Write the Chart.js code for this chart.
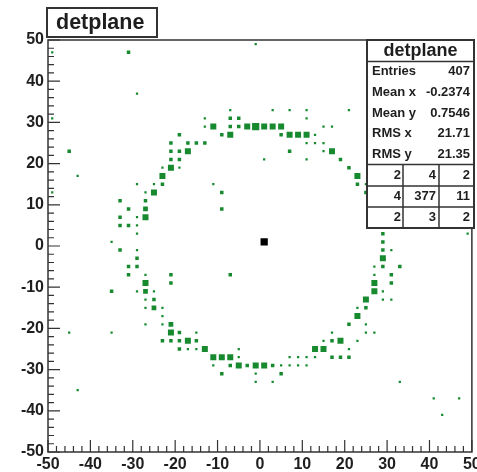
<!DOCTYPE html>
<html>
<head>
<meta charset="utf-8">
<script src="https://cdn.jsdelivr.net/npm/chart.js@4.4.1/dist/chart.umd.min.js"></script>
<style>
html,body{margin:0;padding:0;background:#fff;}
canvas{display:block;}
</style>
</head>
<body>
<canvas id="c" width="477" height="472"></canvas>
<script>
// ---- data (bin centres, estimated bin contents) ----
const binX = [
 -49,-31,-29,-1,-49,-45,-43,-49,-35,-35,-35,-45,-43,33,41,47,43,49,-7,-9,-9,-11,1,7,11,21,
 -33,-27,-31,-27,-33,-29,-27,-33,-31,-29,-29,-27,-25,-29,-25,-23,-23,-23,-21,-19,-21,-19,-21,-19,-17,
 -21,-17,-15,-13,-19,-9,-7,-13,-11,-7,-5,-3,-1,1,3,5,-13,-7,-5,-7,
 3,7,11,11,15,17,5,7,9,11,13,11,13,15,15,17,19,21,23,23,25,25,27,31,27,27,29,29,29,
 29,31,29,27,29,33,27,31,27,31,27,29,25,29,31,23,25,23,21,25,17,25,27,15,17,19,23,13,15,21,
 7,9,11,13,17,19,21,-5,-3,-1,1,3,5,7,9,11,-9,-1,5,-1,3,
 -33,-29,-29,-31,-29,-31,-27,-21,-27,-21,-29,-27,-25,-27,-25,-27,-25,-23,-23,-27,-23,-21,
 -21,-19,-15,-23,-21,-19,-17,-15,-19,-17,-15,-13,-5,-11,-9,-7,-5,-11,-7
];
const binY = [
 47,47,37,49,31,23,17,13,1,-11,-21,-21,-35,-33,-37,-37,-41,3,-7,13,9,15,21,23,21,33,
 11,11,9,9,7,7,7,5,5,5,3,13,13,15,15,15,17,19,19,19,21,21,23,23,23,
 25,25,25,25,27,27,27,29,29,29,29,29,29,29,29,29,31,31,31,33,
 33,33,33,31,29,29,27,27,27,27,27,25,25,25,23,23,21,19,17,15,15,13,11,11,9,7,5,3,1,
 -1,-1,-3,-5,-5,-5,-7,-7,-9,-9,-11,-11,-13,-13,-13,-15,-15,-17,-19,-19,-21,-21,-21,-23,-23,-23,-23,-25,-25,-25,
 -27,-27,-27,-27,-27,-27,-27,-29,-29,-29,-29,-29,-29,-29,-29,-29,-31,-31,-31,-33,-33,
 -1,-1,-3,-5,-5,-7,-7,-7,-9,-9,-11,-11,-11,-13,-13,-15,-15,-15,-17,-19,-19,-19,
 -21,-21,-21,-23,-23,-23,-23,-23,-25,-25,-25,-25,-25,-27,-27,-27,-27,-29,-29
];
const binCount = [
 1,2,1,1,1,2,1,1,1,2,1,1,1,1,1,1,1,1,2,2,2,1,1,2,1,1,
 2,2,2,3,2,1,4,2,2,1,1,1,4,1,1,2,4,1,4,1,2,2,2,2,4,
 2,2,2,2,2,2,4,1,4,2,2,4,5,4,4,4,1,2,2,1,
 1,1,1,1,1,1,2,4,4,4,1,1,1,1,1,4,2,2,4,2,1,2,4,1,2,1,4,2,2,
 2,1,4,1,2,2,1,2,4,2,4,1,4,1,1,1,2,4,2,1,1,1,1,1,2,4,1,4,4,1,
 1,1,1,1,2,2,2,4,2,4,4,2,1,1,1,1,2,1,2,1,1,
 2,1,2,2,2,2,1,2,4,2,1,3,1,1,2,1,3,1,1,1,1,3,
 4,2,1,2,2,2,4,2,2,1,1,4,1,4,4,4,1,1,2
];
const sourceX = [1];
const sourceY = [1];
const sourceCount = [5];

const xTicks = [-50,-40,-30,-20,-10,0,10,20,30,40,50];
const yTicks = [-50,-40,-30,-20,-10,0,10,20,30,40,50];

const histTitle = 'detplane';
const statNames = ['Entries','Mean x','Mean y','RMS x','RMS y'];
const statValues = ['407','-0.2374','0.7546','21.71','21.35'];
const overflowRow1 = ['2','4','2'];
const overflowRow2 = ['4','377','11'];
const overflowRow3 = ['2','3','2'];

// ---- build ----
const greenPts = binX.map((x,i)=>({x:x, y:binY[i], c:binCount[i]}));
const srcPts = sourceX.map((x,i)=>({x:x, y:sourceY[i], c:sourceCount[i]}));
const boxSide = c => 1 + c*1.25;
const radiusFor = c => boxSide(c) * Math.SQRT1_2;

const FONT = '"Liberation Sans", Arial, Helvetica, sans-serif';
const INK = '#1e1e1e';

const frameAndBoxes = {
  id:'frameAndBoxes',
  afterDraw(chart){
    const ctx = chart.ctx;
    const a = chart.chartArea;
    const xs = chart.scales.x, ys = chart.scales.y;
    ctx.save();
    // frame
    ctx.strokeStyle = '#333';
    ctx.lineWidth = 1.5;
    ctx.strokeRect(a.left, a.top, a.right-a.left, a.bottom-a.top);
    // inward ticks
    ctx.lineWidth = 1.2;
    ctx.beginPath();
    for (let v=-50; v<=50; v+=2){
      const major = (v % 10 === 0);
      const L = major ? 12 : 6;
      const px = xs.getPixelForValue(v);
      ctx.moveTo(px, a.bottom); ctx.lineTo(px, a.bottom - L);
      const py = ys.getPixelForValue(v);
      ctx.moveTo(a.left, py); ctx.lineTo(a.left + L, py);
    }
    ctx.stroke();

    // title box
    ctx.fillStyle = '#fff';
    ctx.fillRect(47, 8, 110, 29);
    ctx.strokeStyle = '#333';
    ctx.lineWidth = 2;
    ctx.strokeRect(47, 8, 110, 29);
    ctx.fillStyle = INK;
    ctx.font = 'bold 21.5px ' + FONT;
    ctx.textAlign = 'left';
    ctx.textBaseline = 'alphabetic';
    ctx.fillText(histTitle, 56, 29);

    // stats box
    const L0 = 367, R0 = 474, T0 = 40, B0 = 228;
    ctx.fillStyle = '#fff';
    ctx.fillRect(L0, T0, R0-L0, B0-T0);
    ctx.strokeStyle = '#333';
    ctx.lineWidth = 2;
    ctx.strokeRect(L0, T0, R0-L0, B0-T0);
    ctx.lineWidth = 1.5;
    ctx.beginPath();
    ctx.moveTo(L0, 61.5); ctx.lineTo(R0, 61.5);
    ctx.moveTo(L0, 164.5); ctx.lineTo(R0, 164.5);
    ctx.moveTo(L0, 186); ctx.lineTo(R0, 186);
    ctx.moveTo(L0, 207); ctx.lineTo(R0, 207);
    ctx.moveTo(403, 164.5); ctx.lineTo(403, B0);
    ctx.moveTo(439, 164.5); ctx.lineTo(439, B0);
    ctx.stroke();

    ctx.fillStyle = INK;
    ctx.textBaseline = 'middle';
    ctx.textAlign = 'center';
    ctx.font = 'bold 18px ' + FONT;
    ctx.fillText(histTitle, (L0+R0)/2, 51);
    ctx.font = 'bold 13px ' + FONT;
    const rowH = (164.5-61.5)/5;
    statNames.forEach((n,i)=>{
      const yy = 61.5 + rowH*(i+0.5);
      ctx.textAlign = 'left';
      ctx.fillText(n, 372, yy);
      ctx.textAlign = 'right';
      ctx.fillText(statValues[i], 470, yy);
    });
    const rows = [overflowRow1, overflowRow2, overflowRow3];
    const colR = [401, 436, 470];
    const gridH = (B0-164.5)/3;
    ctx.textAlign = 'right';
    rows.forEach((r,j)=>{
      const yy = 164.5 + gridH*(j+0.5);
      r.forEach((t,k)=> ctx.fillText(t, colR[k], yy));
    });
    ctx.restore();
  }
};

new Chart(document.getElementById('c').getContext('2d'), {
  type:'scatter',
  data:{
    datasets:[
      {
        data: greenPts,
        pointStyle:'rect',
        pointRadius: c => radiusFor(c.raw ? c.raw.c : 1),
        pointHoverRadius: c => radiusFor(c.raw ? c.raw.c : 1),
        backgroundColor:'#178a30',
        borderWidth:0
      },
      {
        data: srcPts,
        pointStyle:'rect',
        pointRadius: c => radiusFor(c.raw ? c.raw.c : 1),
        backgroundColor:'#000',
        borderWidth:0
      }
    ]
  },
  options:{
    responsive:false,
    animation:false,
    devicePixelRatio:1,
    layout:{padding:{top:40,right:3,left:0,bottom:0}},
    plugins:{legend:{display:false}, tooltip:{enabled:false}, title:{display:false}},
    scales:{
      x:{
        type:'linear', min:-50, max:50,
        afterBuildTicks: s => { s.ticks = xTicks.map(v=>({value:v})); },
        afterFit: s => { s.height = 20; s.paddingLeft = 0; s.paddingRight = 0; },
        ticks:{font:{family:FONT, size:16, weight:'bold'}, color:INK, padding:3, maxRotation:0, autoSkip:false},
        grid:{display:false, drawTicks:false},
        border:{display:false}
      },
      y:{
        type:'linear', min:-50, max:50,
        afterBuildTicks: s => { s.ticks = yTicks.map(v=>({value:v})); },
        afterFit: s => { s.width = 48; s.paddingTop = 0; s.paddingBottom = 0; },
        ticks:{font:{family:FONT, size:16, weight:'bold'}, color:INK, padding:4, autoSkip:false},
        grid:{display:false, drawTicks:false},
        border:{display:false}
      }
    }
  },
  plugins:[frameAndBoxes]
});
</script>
</body>
</html>
